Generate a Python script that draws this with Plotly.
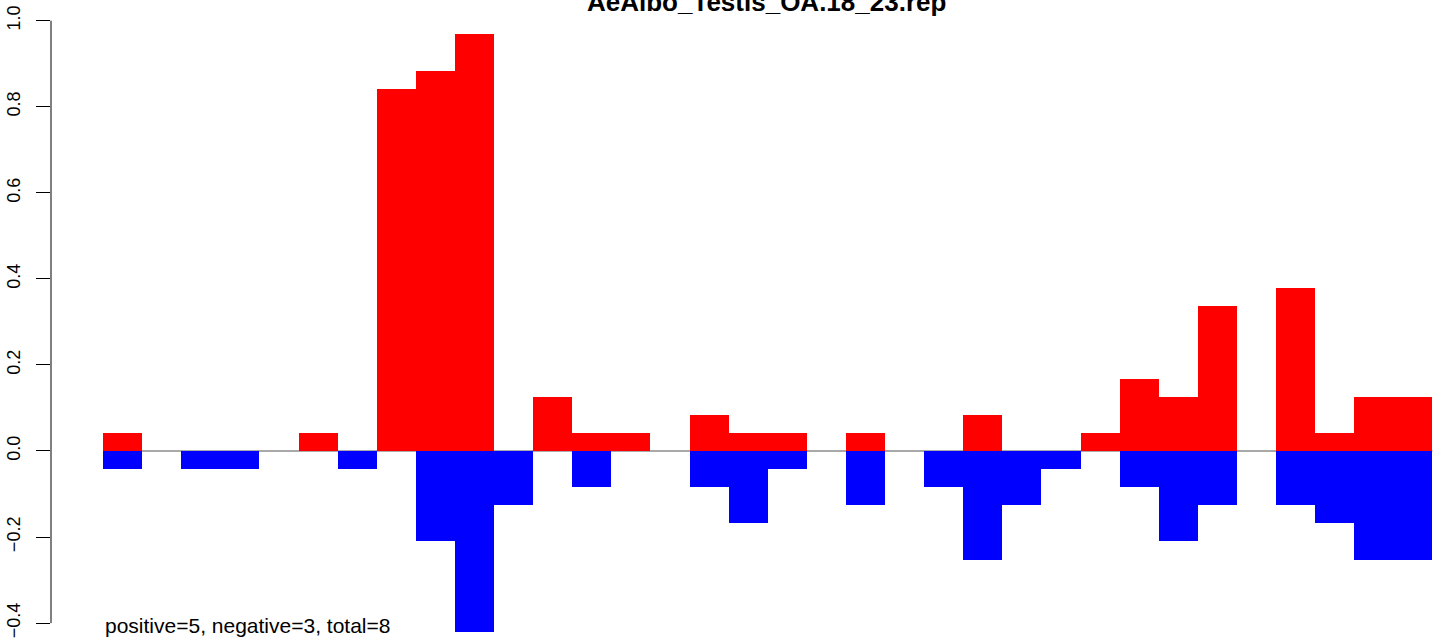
import plotly.graph_objects as go

# ---- data ----
bins = list(range(1, 35))
positive = [0.042, 0, 0, 0, 0, 0.042, 0, 0.842, 0.884, 0.968,
            0, 0.126, 0.042, 0.042, 0, 0.084, 0.042, 0.042, 0, 0.042,
            0, 0, 0.084, 0, 0, 0.042, 0.168, 0.126, 0.337, 0,
            0.379, 0.042, 0.126, 0.126]
negative = [-0.042, 0, -0.042, -0.042, 0, 0, -0.042, 0, -0.21, -0.421,
            -0.126, 0, -0.084, 0, 0, -0.084, -0.168, -0.042, 0, -0.126,
            0, -0.084, -0.253, -0.126, -0.042, 0, -0.084, -0.21, -0.126, 0,
            -0.126, -0.168, -0.253, -0.253]
ytick_vals = [-0.4, -0.2, 0.0, 0.2, 0.4, 0.6, 0.8, 1.0]
ytick_text = ["\u22120.4", "\u22120.2", "0.0", "0.2", "0.4", "0.6", "0.8", "1.0"]
title_text = "AeAlbo_Testis_OA.18_23.rep"
note_text = "positive=5, negative=3, total=8"

FONT = "Liberation Sans, Arial, Helvetica, sans-serif"

fig = go.Figure()
fig.add_trace(go.Bar(x=bins, y=positive, width=1, marker=dict(color="#FF0000", line=dict(width=0)),
                     hoverinfo="skip"))
fig.add_trace(go.Bar(x=bins, y=negative, width=1, marker=dict(color="#0000FF", line=dict(width=0)),
                     hoverinfo="skip"))

# zero reference line across the bar region
fig.add_shape(type="line", xref="x", yref="y", x0=0.5, x1=34.5, y0=0, y1=0,
              line=dict(color="#A9A9A9", width=2), layer="below")
# y axis line from -0.4 to 1.0
fig.add_shape(type="line", xref="paper", yref="y", x0=0, x1=0, y0=-0.4, y1=1.0,
              line=dict(color="black", width=1))

fig.add_annotation(text="<b>" + title_text + "</b>", xref="paper", yref="paper",
                   x=(766.5 - 51) / 1390, y=1 - 1.6 / 638, xanchor="center", yanchor="middle",
                   showarrow=False, font=dict(family=FONT, size=26, color="black"))
fig.add_annotation(text=note_text, xref="paper", yref="paper",
                   x=(104 - 51) / 1390, y=1 - 625.6 / 638, xanchor="left", yanchor="middle",
                   xshift=-1, showarrow=False, font=dict(family=FONT, size=21, color="black"))

fig.update_layout(
    width=1441, height=638,
    margin=dict(l=51, r=0, t=0, b=0, pad=0),
    paper_bgcolor="white", plot_bgcolor="white",
    barmode="overlay", bargap=0,
    showlegend=False,
    font=dict(family=FONT, color="black"),
    xaxis=dict(visible=False, range=[-0.830, 34.72]),
    yaxis=dict(range=[-0.4346, 1.0481], showgrid=False, zeroline=False, showline=False,
               ticks="outside", ticklen=14, tickwidth=1, tickcolor="black",
               tickvals=ytick_vals, ticktext=ytick_text, tickangle=-90,
               ticklabelstandoff=9, ticklabeloverflow="allow",
               tickfont=dict(family=FONT, size=18, color="black")),
)

fig.write_html("out.html", config={"displayModeBar": False},
               post_script="document.body.style.margin='0';")
